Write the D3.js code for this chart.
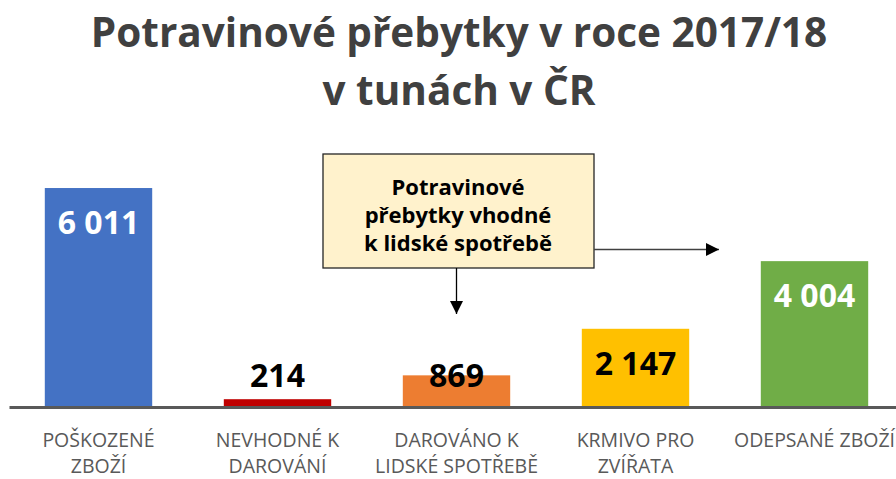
<!DOCTYPE html>
<html>
<head>
<meta charset="utf-8">
<script src="https://cdn.jsdelivr.net/npm/d3@7"></script>
<style>
  body { margin: 0; background: #fff; }
  text { font-family: "Open Sans", sans-serif; }
</style>
</head>
<body>
<div id="chart"></div>
<script>
// data
const categories = ["POŠKOZENÉ\nZBOŽÍ", "NEVHODNÉ K\nDAROVÁNÍ", "DAROVÁNO K\nLIDSKÉ SPOTŘEBĚ", "KRMIVO PRO\nZVÍŘATA", "ODEPSANÉ ZBOŽÍ"];
const values = [6011, 214, 869, 2147, 4004];
const barColors = ["#4472C4", "#C00000", "#ED7D31", "#FFC000", "#70AD47"];
const labelColors = ["#ffffff", "#000000", "#000000", "#000000", "#ffffff"];
const titleLines = ["Potravinové přebytky v roce 2017/18", "v tunách v ČR"];
const calloutLines = ["Potravinové", "přebytky vhodné", "k lidské spotřebě"];

const W = 896, H = 479;

var svg = d3.select("#chart").append("svg")
    .attr("width", W)
    .attr("height", H);

var defs = svg.append("defs");
defs.append("marker")
    .attr("id", "arrow")
    .attr("viewBox", "0 0 10 10")
    .attr("refX", 10)
    .attr("refY", 5)
    .attr("markerWidth", 14)
    .attr("markerHeight", 13)
    .attr("markerUnits", "userSpaceOnUse")
    .attr("orient", "auto")
    .append("path")
    .attr("d", "M0,0 L10,5 L0,10 z")
    .attr("fill", "#000");

// title
svg.append("g")
    .selectAll("text")
    .data(titleLines)
    .enter()
    .append("text")
        .attr("x", 459)
        .attr("y", function(_, i) { return 47 + i * 58; })
        .attr("text-anchor", "middle")
        .style("font-size", "40.5px")
        .style("font-weight", "bold")
        .style("fill", "#404040")
        .text(function(d) { return d; });

var x = d3.scaleBand()
    .domain(categories)
    .range([9, 904])
    .paddingInner(0.4)
    .paddingOuter(0.2);

var y = d3.scaleLinear()
    .domain([0, 7000])
    .range([407, 152]);

// bars
svg.append("g")
    .selectAll("rect")
    .data(values)
    .enter()
    .append("rect")
        .attr("x", function(_, i) { return x(categories[i]); })
        .attr("y", function(d) { return y(d); })
        .attr("width", x.bandwidth())
        .attr("height", function(d) { return y(0) - y(d); })
        .style("fill", function(_, i) { return barColors[i]; });

// value labels (inside end, pushed up for short bars)
svg.append("g")
    .selectAll("text")
    .data(values)
    .enter()
    .append("text")
        .attr("x", function(_, i) { return x(categories[i]) + x.bandwidth() / 2; })
        .attr("y", function(d) { return Math.min(y(d) + 46, y(0) - 20); })
        .attr("text-anchor", "middle")
        .style("font-size", "32px")
        .style("font-weight", "bold")
        .style("fill", function(_, i) { return labelColors[i]; })
        .text(function(d) { return d3.format(",")(d).replace(",", " "); });

// axis
var xAxis = svg.append("g")
    .attr("transform", "translate(0," + y(0) + ")")
    .call(d3.axisBottom(x).tickSize(0).tickSizeOuter(0));

xAxis.select(".domain")
    .attr("stroke", "#595959")
    .attr("stroke-width", 3);

xAxis.selectAll(".tick text")
    .each(function(d) {
        var t = d3.select(this);
        t.text(null)
            .attr("y", 0)
            .attr("dy", null);
        d.split("\n").forEach(function(line, i) {
            t.append("tspan")
                .attr("x", 0)
                .attr("y", 40 + i * 26)
                .text(line);
        });
    })
    .style("font-size", "19.5px")
    .style("font-family", "'Open Sans', sans-serif")
    .style("fill", "#595959");

// callout box
var box = svg.append("g");
box.append("rect")
    .attr("x", 323)
    .attr("y", 154)
    .attr("width", 271)
    .attr("height", 114)
    .style("fill", "#FFF2CC")
    .style("stroke", "#262626")
    .style("stroke-width", 1.3);

box.selectAll("text")
    .data(calloutLines)
    .enter()
    .append("text")
        .attr("x", 458)
        .attr("y", function(_, i) { return 195 + i * 28; })
        .attr("text-anchor", "middle")
        .style("font-size", "22px")
        .style("font-weight", "bold")
        .style("fill", "#000")
        .text(function(d) { return d; });

// arrows
box.append("line")
    .attr("x1", 456.5).attr("y1", 268)
    .attr("x2", 456.5).attr("y2", 314)
    .style("stroke", "#000")
    .style("stroke-width", 1.3)
    .attr("marker-end", "url(#arrow)");

box.append("line")
    .attr("x1", 594).attr("y1", 249.5)
    .attr("x2", 719).attr("y2", 249.5)
    .style("stroke", "#404040")
    .style("stroke-width", 1.3)
    .attr("marker-end", "url(#arrow)");
</script>
</body>
</html>
